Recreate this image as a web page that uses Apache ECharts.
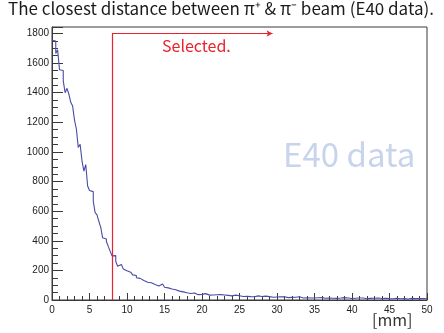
<!DOCTYPE html>
<html>
<head>
<meta charset="utf-8">
<script src="https://cdn.jsdelivr.net/npm/echarts@6/dist/echarts.min.js"></script>
<style>
html,body{margin:0;padding:0;background:#fff;}
#c{width:444px;height:333px;}
</style>
</head>
<body>
<div id="c"></div>
<script>
// ---- data ----
const titleText = 'The closest distance between \u03c0\u207a & \u03c0\u207b beam (E40 data).';
const xLabel = '[mm]';
const watermark = 'E40 data';
const cutLabel = 'Selected.';
const binWidth = 0.25;          // mm
const xRange = [0, 50];
const yTicks = [0, 200, 400, 600, 800, 1000, 1200, 1400, 1600, 1800];
const xTicks = [0, 5, 10, 15, 20, 25, 30, 35, 40, 45, 50];
const cutValue = 8;             // mm
const cutArrowEnd = 29.4;       // mm
const cutArrowY = 1800;
const counts = [
 1755,1750,1665,1690,1555,1550,1480,1400,1430,1390,
 1335,1310,1215,1155,1030,1052,940,870,915,770,
 740,732,668,590,575,530,490,420,412,395,
 362,330,298,300,262,228,240,232,210,198,
 192,188,178,170,166,150,146,136,132,122,
 120,112,116,114,104,98,95,92,108,102,
 86,82,78,74,70,69,64,60,58,55,
 52,49,46,44,50,47,39,36,35,38,
 44,43,40,33,30,34,38,35,31,36,
 30,34,29,31,36,28,27,33,26,29,
 31,24,27,25,30,23,26,22,25,28,
 21,24,22,26,20,23,21,19,24,20,
 18,21,17,22,19,16,20,18,15,19,
 17,22,16,14,18,15,17,13,16,14,
 19,15,13,16,14,12,15,13,17,12,
 14,11,15,13,12,16,11,13,14,10,
 15,12,11,13,10,14,12,9,13,11,
 10,12,9,13,11,10,8,12,10,9,
 11,8,10,12,9,8,11,9,10,7,
 9,11,8,9,7,10,8,9,7,8
];

// build step points (left edges) for the histogram
const histPts = counts.map((c, i) => [i * binWidth, c]);
histPts.push([counts.length * binWidth, counts[counts.length - 1]]);

const chart = echarts.init(document.getElementById('c'), null, {renderer: 'canvas'});
const axisColor = '#3a3a3a';
const labelFont = 'Liberation Sans, Arial, sans-serif';
const red = '#e8232b';

chart.setOption({
  animation: false,
  backgroundColor: '#fff',
  grid: {left: 52, right: 17, top: 27, bottom: 33, show: true, borderColor: axisColor, borderWidth: 1, backgroundColor: '#fff'},
  xAxis: {
    type: 'value', min: xRange[0], max: xRange[1], interval: 5,
    axisLine: {show: true, lineStyle: {color: axisColor, width: 1}},
    axisTick: {show: true, inside: true, length: 7, lineStyle: {color: axisColor}},
    minorTick: {show: true, splitNumber: 5, length: 4, lineStyle: {color: axisColor}},
    splitLine: {show: false},
    axisLabel: {margin: 5, fontSize: 10, color: '#222', fontFamily: labelFont,
      formatter: v => xTicks.indexOf(v) >= 0 ? String(v) : ''}
  },
  yAxis: {
    type: 'value', min: 0, max: 1844, interval: 200,
    axisLine: {show: true, lineStyle: {color: axisColor, width: 1}},
    axisTick: {show: true, inside: true, length: 11, lineStyle: {color: axisColor}},
    minorTick: {show: true, splitNumber: 4, length: 6, lineStyle: {color: axisColor}},
    splitLine: {show: false},
    axisLabel: {margin: 3, fontSize: 10, color: '#222', fontFamily: labelFont,
      formatter: v => yTicks.indexOf(v) >= 0 ? String(v) : ''}
  },
  series: [{
    type: 'line', step: 'end', data: histPts, showSymbol: false, symbol: 'none',
    lineStyle: {color: '#4a4aa8', width: 1.1},
    z: 3,
    markLine: {
      silent: true, symbol: ['none', 'none'],
      lineStyle: {color: red, width: 1.2, type: 'solid'},
      label: {show: false},
      data: [
        [{coord: [cutValue, 0], symbol: 'none'}, {coord: [cutValue, cutArrowY], symbol: 'none'}],
        [{coord: [cutValue, cutArrowY], symbol: 'none'}, {coord: [cutArrowEnd, cutArrowY], symbol: 'arrow', symbolSize: [5, 6]}]
      ]
    }
  }],
  graphic: [
    {type: 'text', left: 8, top: 0, style: {text: titleText, font: '17px "Noto Sans CJK JP"', fill: '#1a1a1a'}},
    {type: 'text', left: 372, top: 312, style: {text: xLabel, font: '16px "Noto Sans CJK JP"', fill: '#333'}},
    {type: 'text', left: 283, top: 138, style: {text: watermark, font: '33px "Noto Sans CJK JP"', fill: '#c8d3ec'}, z: 1},
    {type: 'text', left: 162, top: 38, style: {text: cutLabel, font: '16px "Noto Sans CJK JP"', fill: red}, z: 10}
  ]
});
</script>
</body>
</html>
